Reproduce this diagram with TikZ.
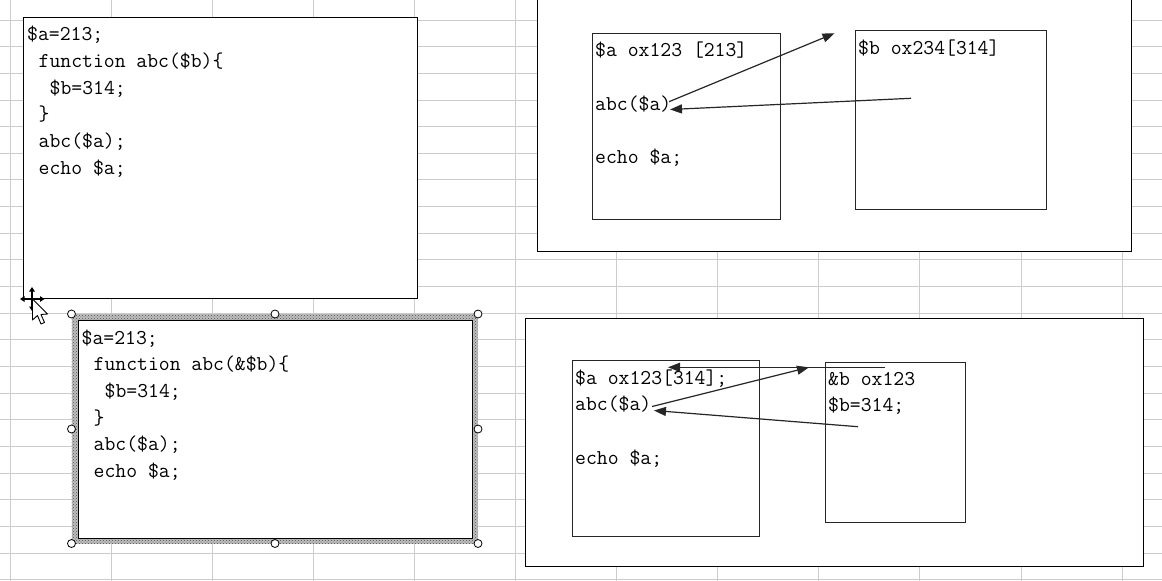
\documentclass[tikz,border=0pt]{standalone}
\usepackage{fontspec}
\usetikzlibrary{arrows.meta,patterns}
\begin{document}
\begin{tikzpicture}[x=1pt,y=-1pt,
  code/.style={font=\ttfamily\fontsize{21.1}{23}\selectfont, anchor=base west, inner sep=0pt},
  bigbox/.style={draw=black, line width=1.4pt, fill=white, anchor=north west, inner sep=0pt},
  membox/.style={draw=black!85, line width=1.2pt, fill=white, anchor=north west, inner sep=0pt},
  ptr/.style={line width=1.2pt, draw=black!85, -{Triangle[length=12pt,width=9pt]}},
  gridline/.style={draw=black!20, line width=0.9pt},
  handle/.style={circle, draw=black, fill=white, line width=0.8pt, minimum size=8pt, inner sep=0pt},
  cursorarrow/.style={line width=1.3pt, {Triangle[length=4.5pt,width=5.5pt]}-{Triangle[length=4.5pt,width=5.5pt]}}
]
\useasboundingbox (0,0) rectangle (1162,581);
\clip (0,0) rectangle (1162,581);
\fill[white] (0,0) rectangle (1162,581);
% spreadsheet grid
\foreach \i in {0,...,11} \draw[gridline] ({10+101.1*\i},0) -- ({10+101.1*\i},581);
\foreach \j in {0,...,21} \draw[gridline] (0,{20+26.65*\j}) -- (1162,{20+26.65*\j});

% ---------- top-left code box ----------
\node[bigbox, minimum width=394pt, minimum height=281pt] (code1) at (23,17) {};
\node[code] (c1l1) at (27,40) {\$a=213;};
\node[code] (c1l2) at (38.5,67.3) {function abc(\$b)\{};
\node[code] (c1l3) at (49.5,94) {\$b=314;};
\node[code] (c1l4) at (38.5,120.7) {\}};
\node[code] (c1l5) at (38.5,147.3) {abc(\$a);};
\node[code] (c1l6) at (38.5,174) {echo \$a;};

% ---------- bottom-left code box (selected) ----------
\fill[black!25] (71.5,314) rectangle (478,543.5);
\fill[pattern=crosshatch dots, pattern color=black!70] (71.5,314) rectangle (478,543.5);
\node[bigbox, line width=1.3pt, minimum width=394pt, minimum height=218pt] (code2) at (78,320) {};
\foreach \p/\n in {{71.5,314}/h1,{275,314}/h2,{478,314}/h3,{71.5,429}/h4,{478,429}/h5,{71.5,543.5}/h6,{275,543.5}/h7,{478,543.5}/h8}
  \node[handle] (\n) at (\p) {};
\node[code] (c2l1) at (81.5,344) {\$a=213;};
\node[code] (c2l2) at (93.5,370.7) {function abc(\&\$b)\{};
\node[code] (c2l3) at (104.5,397.3) {\$b=314;};
\node[code] (c2l4) at (93.5,424) {\}};
\node[code] (c2l5) at (93.5,450.7) {abc(\$a);};
\node[code] (c2l6) at (93.5,477.3) {echo \$a;};

% ---------- mouse cursor ----------
\draw[cursorarrow] (20,299) -- (44.5,299);
\draw[cursorarrow] (32,287) -- (32,311);
\draw[fill=white, line width=0.9pt, line join=round]
  (32.5,299) -- (32.5,320) -- (37.5,315.5) -- (41,324) -- (44.5,322.5) -- (41,314.5) -- (47.5,314) -- cycle;

% ---------- top-right memory diagram ----------
\node[bigbox, minimum width=594pt, minimum height=262pt] (mem1) at (537,-11) {};
\node[membox, minimum width=188pt, minimum height=186pt] (boxA) at (592,33) {};
\node[membox, minimum width=191pt, minimum height=179pt] (boxB) at (855,30) {};
\node[code] (aA) at (595,56) {\$a ox123 [213]};
\node[code] (abcA) at (595,110) {abc(\$a)};
\node[code] (echoA) at (595,163) {echo \$a;};
\node[code] (bB) at (858,54) {\$b ox234[314]};
\coordinate (s1) at (669,101.7);
\coordinate (t1) at (834.5,33.3);
\coordinate (s2) at (911,98.3);
\coordinate (t2) at (670,109.5);
\draw[ptr] (s1) -- (t1);
\draw[ptr] (s2) -- (t2);

% ---------- bottom-right memory diagram ----------
\node[bigbox, minimum width=618pt, minimum height=248pt] (mem2) at (525,318) {};
\node[membox, minimum width=187pt, minimum height=176pt] (boxC) at (572,360) {};
\node[membox, minimum width=139.5pt, minimum height=160.5pt] (boxD) at (825,361.5) {};
\node[code] (aC) at (575,384) {\$a ox123[314];};
\node[code] (abcC) at (575,410) {abc(\$a)};
\node[code] (echoC) at (575,464) {echo \$a;};
\node[code] (bD) at (828,385) {\&b ox123};
\node[code] (bD2) at (828,411.5) {\$b=314;};
\coordinate (s3) at (652,406.5);
\coordinate (t3) at (809,367.3);
\coordinate (s4) at (858,426.7);
\coordinate (t4) at (654,410.5);
\coordinate (s5) at (885,367.3);
\coordinate (t5) at (668,367.3);
\draw[ptr] (s3) -- (t3);
\draw[ptr] (s4) -- (t4);
\draw[ptr] (s5) -- (t5);
\end{tikzpicture}
\end{document}
